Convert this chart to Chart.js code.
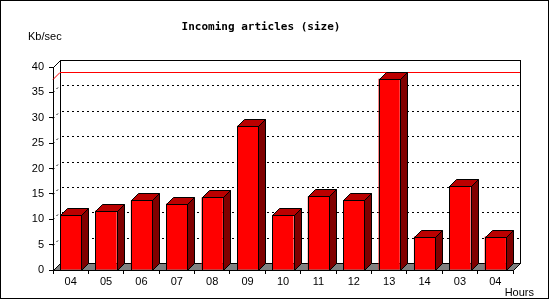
<!DOCTYPE html>
<html>
<head>
<meta charset="utf-8">
<script src="https://cdn.jsdelivr.net/npm/chart.js@4/dist/chart.umd.min.js"></script>
<style>
  html, body { margin: 0; padding: 0; background: #fff; }
  #wrap { width: 550px; height: 300px; }
</style>
</head>
<body>
<div id="wrap"><canvas id="bars"></canvas></div>
<script>
// hours on the x axis (last 13 hours)
const hours = ["04", "05", "06", "07", "08", "09", "10", "11", "12", "13", "14", "03", "04"];
// incoming size, Kb/sec
const kbPerSec = [10.9, 11.7, 13.7, 13.1, 14.3, 28.4, 10.9, 14.5, 13.7, 37.7, 6.6, 16.5, 6.6];
const yTicks = [0, 5, 10, 15, 20, 25, 30, 35, 40];

const DEPTH = 7;
const labelFont = { family: "'Liberation Sans', Arial, sans-serif", size: 11 };

// fake 3d: back wall, floor, grid, max line and the bar top/side faces
const box3d = {
    id: 'box3d',
    beforeDraw(chart) {
        const c = chart.ctx;
        c.save();
        c.fillStyle = '#fff';
        c.fillRect(0, 0, chart.width, chart.height);
        c.strokeStyle = '#000';
        c.lineWidth = 1;
        c.strokeRect(0.5, 0.5, chart.width - 2, chart.height - 2);
        c.restore();
    },
    beforeDatasetsDraw(chart) {
        const c = chart.ctx, a = chart.chartArea, y = chart.scales.y, d = DEPTH;
        c.save();
        c.lineWidth = 1;
        // back wall
        c.fillStyle = '#fff';
        c.strokeStyle = '#000';
        c.fillRect(a.left + d, a.top - d, a.right - a.left, a.bottom - a.top);
        c.strokeRect(a.left + d + 0.5, a.top - d + 0.5, a.right - a.left, a.bottom - a.top);
        // dotted grid on back wall and left side
        c.setLineDash([2, 3]);
        yTicks.forEach(v => {
            if (v === 0 || v === 40) return;
            const py = Math.round(y.getPixelForValue(v)) + 0.5;
            c.beginPath();
            c.moveTo(a.left + d + 2, py - d);
            c.lineTo(a.right + d, py - d);
            c.moveTo(a.left, py);
            c.lineTo(a.left + d, py - d);
            c.stroke();
        });
        c.setLineDash([]);
        // top edge of the left side wall
        c.beginPath();
        c.moveTo(a.left + 0.5, a.top + 0.5);
        c.lineTo(a.left + d + 0.5, a.top - d + 0.5);
        c.stroke();
        // floor
        c.fillStyle = '#808080';
        c.beginPath();
        c.moveTo(a.left + 0.5, a.bottom + 0.5);
        c.lineTo(a.right + 0.5, a.bottom + 0.5);
        c.lineTo(a.right + d + 0.5, a.bottom - d + 0.5);
        c.lineTo(a.left + d + 0.5, a.bottom - d + 0.5);
        c.closePath();
        c.fill();
        c.stroke();
        // max line
        const my = Math.round(y.getPixelForValue(Math.max(...kbPerSec))) + 0.5;
        c.strokeStyle = '#ff0000';
        c.beginPath();
        c.moveTo(a.left, my);
        c.lineTo(a.left + d, my - d);
        c.lineTo(a.right + d, my - d);
        c.stroke();
        c.restore();
    },
    afterDatasetsDraw(chart) {
        const c = chart.ctx, d = DEPTH;
        c.save();
        c.lineWidth = 1;
        c.strokeStyle = '#000';
        chart.getDatasetMeta(0).data.forEach(bar => {
            const l = Math.round(bar.x - bar.width / 2) + 0.5;
            const r = Math.round(bar.x + bar.width / 2) + 0.5;
            const t = Math.round(bar.y) + 0.5;
            const b = Math.round(bar.base) + 0.5;
            c.fillStyle = '#bb0000';
            c.beginPath();
            c.moveTo(l, t);
            c.lineTo(l + d, t - d);
            c.lineTo(r + d, t - d);
            c.lineTo(r, t);
            c.closePath();
            c.fill();
            c.stroke();
            c.fillStyle = '#800000';
            c.beginPath();
            c.moveTo(r, t);
            c.lineTo(r + d, t - d);
            c.lineTo(r + d, b - d);
            c.lineTo(r, b);
            c.closePath();
            c.fill();
            c.stroke();
            c.strokeRect(l, t, r - l, b - t);
        });
        c.restore();
    },
    afterDraw(chart) {
        const c = chart.ctx;
        c.save();
        c.fillStyle = '#000';
        c.textBaseline = 'middle';
        c.font = "bold 11px 'DejaVu Sans Mono', 'Liberation Mono', monospace";
        c.textAlign = 'center';
        c.fillText('Incoming articles (size)', 261, 27);
        c.font = "11px 'Liberation Sans', Arial, sans-serif";
        c.textAlign = 'left';
        c.fillText('Kb/sec', 28, 37);
        c.textAlign = 'right';
        c.fillText('Hours', 534, 293);
        c.restore();
    }
};

new Chart(document.getElementById('bars'), {
    type: 'bar',
    data: {
        labels: hours,
        datasets: [{
            label: 'Kb/sec',
            data: kbPerSec,
            backgroundColor: '#ff0000',
            borderColor: '#000',
            borderWidth: 0,
            barPercentage: 0.6,
            categoryPercentage: 1.0
        }]
    },
    options: {
        responsive: true,
        maintainAspectRatio: false,
        animation: false,
        layout: { padding: { top: 67, right: 37, left: 0, bottom: 0 } },
        plugins: {
            legend: { display: false },
            tooltip: { enabled: false },
            title: { display: false }
        },
        scales: {
            x: {
                afterFit: s => { s.height = 30; },
                grid: { drawOnChartArea: false, tickLength: 4, color: '#000', offset: true },
                border: { color: '#000' },
                ticks: { color: '#000', font: labelFont, padding: 1, maxRotation: 0 }
            },
            y: {
                min: 0,
                max: 40,
                afterFit: s => { s.width = 53; },
                afterBuildTicks: s => { s.ticks = yTicks.map(v => ({ value: v })); },
                grid: { drawOnChartArea: false, tickLength: 4, color: '#000' },
                border: { color: '#000' },
                ticks: { color: '#000', font: labelFont, padding: 5 }
            }
        }
    },
    plugins: [box3d]
});
</script>
</body>
</html>
